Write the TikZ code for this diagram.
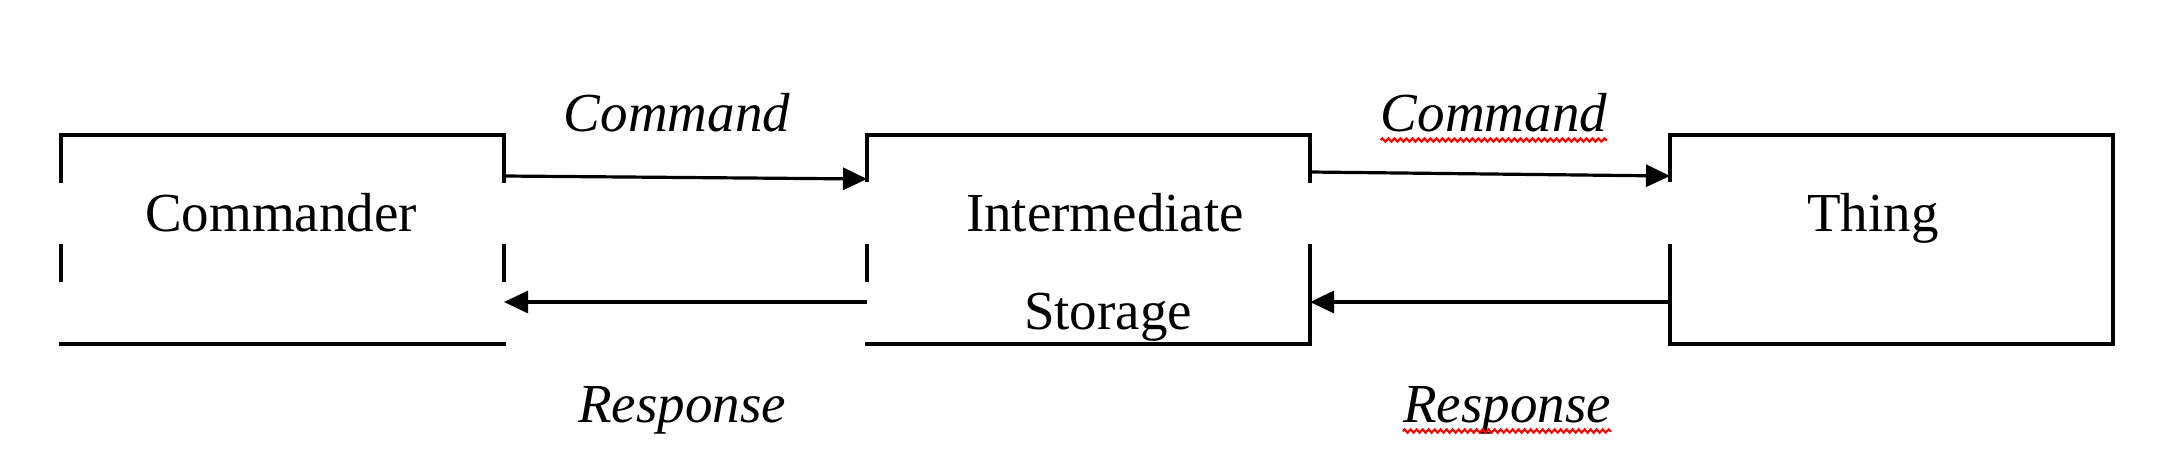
\documentclass[tikz,border=0pt]{standalone}
\usepackage{fontspec}
\setmainfont{Liberation Serif}
\usetikzlibrary{arrows.meta,decorations.pathmorphing}
\begin{document}
\begin{tikzpicture}[x=0.5pt,y=-0.5pt,
  boxline/.style={line width=1.8pt,line cap=rect},
  arr/.style={line width=1.6pt,-{Triangle[length=12pt,width=11pt]}},
  lbl/.style={anchor=base,inner sep=0pt,font=\fontsize{27.5}{33}\selectfont},
  captext/.style={anchor=base,inner sep=0pt,font=\fontsize{27.5}{33}\selectfont\itshape},
  squig/.style={red,line width=1.1pt,decorate,decoration={snake,segment length=3pt,amplitude=0.8pt}},
  boxnode/.style={inner sep=0pt,outer sep=0pt,minimum width=221.5pt,minimum height=104.5pt}]
\useasboundingbox (0,0) rectangle (2164,462);
% box areas
\node[boxnode] (cmdr) at (282.5,239.5) {};
\node[boxnode] (inter) at (1088.5,239.5) {};
\node[boxnode] (thing) at (1891.5,239.5) {};
% texts
\node[lbl] (tcmdr) at (281,231) {Commander};
\node[lbl] (tinter) at (1105,231) {Intermediate};
\node[lbl] (tstor) at (1108,329) {Storage};
\node[lbl] (tthing) at (1873,231) {Thing};
% Commander box
\draw[boxline] (cmdr.north west) -- (cmdr.north east);
\draw[boxline] (cmdr.south west) -- (cmdr.south east);
\draw[boxline] (cmdr.north west) -- (cmdr.north west |- 0,181);
\draw[boxline] (cmdr.north west |- 0,246) -- (cmdr.north west |- 0,280);
\draw[boxline] (cmdr.north east) -- (cmdr.north east |- 0,181);
\draw[boxline] (cmdr.north east |- 0,246) -- (cmdr.north east |- 0,280);
% Intermediate box
\draw[boxline] (inter.north west) -- (inter.north east);
\draw[boxline] (inter.south west) -- (inter.south east);
\draw[boxline] (inter.north west) -- (inter.north west |- 0,180);
\draw[boxline] (inter.north west |- 0,246) -- (inter.north west |- 0,280);
\draw[boxline] (inter.north east) -- (inter.north east |- 0,181);
\draw[boxline] (inter.north east |- 0,246) -- (inter.south east);
% Thing box
\draw[boxline] (thing.north west) -- (thing.north east) -- (thing.south east) -- (thing.south west);
\draw[boxline] (thing.north west) -- (thing.north west |- 0,180);
\draw[boxline] (thing.north west |- 0,246) -- (thing.south west);
% arrows
\coordinate (a1s) at (cmdr.north east |- 0,176);
\coordinate (a1e) at (inter.north west |- 0,179);
\coordinate (a2s) at (inter.north east |- 0,172);
\coordinate (a2e) at (thing.north west |- 0,176);
\coordinate (r1s) at (inter.north west |- 0,302);
\coordinate (r1e) at (cmdr.north east |- 0,302);
\coordinate (r2s) at (thing.north west |- 0,302);
\coordinate (r2e) at (inter.north east |- 0,302);
\draw[arr] (a1s) -- (a1e);
\draw[arr] (a2s) -- (a2e);
\draw[arr] (r1s) -- (r1e);
\draw[arr] (r2s) -- (r2e);
% labels
\node[captext] (c1) at (677,131) {Command};
\node[captext] (c2) at (1494,131) {Command};
\node[captext] (rs1) at (682,422) {Response};
\node[captext] (rs2) at (1507,422) {Response};
\draw[squig] (c2.base west |- 0,140) -- (c2.base east |- 0,140);
\draw[squig] (rs2.base west |- 0,431) -- (rs2.base east |- 0,431);
\end{tikzpicture}
\end{document}
